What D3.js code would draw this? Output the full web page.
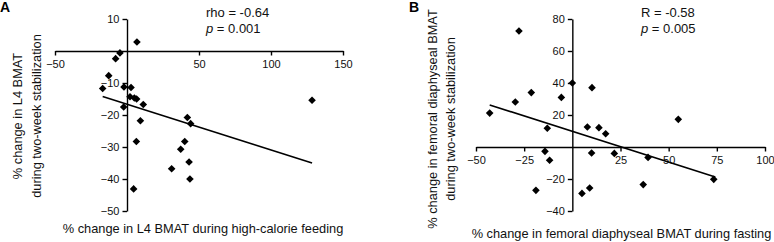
<!DOCTYPE html>
<html>
<head>
<meta charset="utf-8">
<script src="https://cdn.jsdelivr.net/npm/d3@7"></script>
<style>
  body { margin: 0; background: #fff; }
  svg { display: block; font-family: "Liberation Sans", Arial, sans-serif; }
</style>
</head>
<body>
<svg id="chart" width="774" height="242"></svg>
<script>
// ---- panel A data: L4 BMAT ----
const xA = [6.9, -4.9, -7.9, -12.7, -16.9, -2.1, 2.8, 2.1, 5.1, 6.7, 11.3, -2.3, 9.3, 6.5, 4.6, 41.9, 44.2, 40.1, 37.3, 43.1, 31.0, 43.7, 128.5];
const yA = [2.8, -0.6, -2.4, -7.7, -11.7, -11.25, -11.4, -14.3, -14.7, -15.0, -16.7, -17.5, -21.8, -28.3, -43.1, -20.8, -22.7, -28.3, -30.7, -34.7, -36.8, -40.0, -15.4];
const fitA = [[-16.9, -14.2], [128.5, -35.0]];
const xTicksA = [-50, 50, 100, 150];
const yTicksA = [10, -10, -20, -30, -40, -50];

// ---- panel B data: femoral diaphyseal BMAT ----
const xB = [-27.7, 0, 10.2, -21.3, -5.7, -29.6, -42.9, 55.0, -13.0, 7.8, 13.8, 17.3, -14.2, -11.8, 10.0, 21.8, 39.3, -18.9, 5.0, 9.0, 36.8, 73.4];
const yB = [72.5, 40, 37.1, 34.0, 31.0, 28.1, 21.2, 17.3, 11.7, 12.5, 12.1, 8.3, -2.7, -8.3, -3.75, -4.0, -6.5, -27.1, -29.0, -25.6, -23.5, -20.2];
const fitB = [[-42.9, 26.3], [74.2, -18.8]];
const xTicksB = [-50, -25, 25, 50, 75, 100];
const yTicksB = [80, 60, 40, 20, -20, -40];

const svg = d3.select("#chart");

function drawPanel(p) {
    const x = d3.scaleLinear().domain(p.xDomain).range(p.xRange);
    const y = d3.scaleLinear().domain(p.yDomain).range(p.yRange);
    const g = svg.append("g");

    // x axis through y=0
    const xAxis = d3.axisBottom(x).tickValues(p.xTicks).tickSize(4.5).tickPadding(5).tickSizeOuter(0);
    const gx = g.append("g").attr("transform", `translate(0,${y(0)})`).call(xAxis);
    // y axis through x=0
    const yAxis = d3.axisLeft(y).tickValues(p.yTicks).tickSize(4.5).tickPadding(3).tickSizeOuter(0);
    const gy = g.append("g").attr("transform", `translate(${x(0)},0)`).call(yAxis);

    [gx, gy].forEach(a => {
        a.select(".domain").attr("stroke", "#000").attr("stroke-width", 1.4);
        a.selectAll(".tick line").attr("stroke", "#000").attr("stroke-width", 1.4);
        a.selectAll(".tick text").attr("fill", "#111").style("font-size", "11px")
            .style("font-family", "'Liberation Sans', Arial, sans-serif");
    });

    // regression line
    g.append("line")
        .attr("x1", x(p.fit[0][0])).attr("y1", y(p.fit[0][1]))
        .attr("x2", x(p.fit[1][0])).attr("y2", y(p.fit[1][1]))
        .attr("stroke", "#000").attr("stroke-width", 1.6);

    // diamonds
    const pts = p.xs.map((v, i) => ({x: v, y: p.ys[i]}));
    g.selectAll("path.pt")
        .data(pts)
        .enter()
        .append("path")
        .attr("class", "pt")
        .attr("d", d3.symbol().type(d3.symbolSquare).size(29))
        .attr("transform", d => `translate(${x(d.x)},${y(d.y)}) rotate(45)`)
        .attr("fill", "#000");

    // axis titles
    g.append("text")
        .attr("x", (p.xRange[0] + p.xRange[1]) / 2 + p.xLabelShift)
        .attr("y", p.xLabelY)
        .attr("text-anchor", "middle")
        .style("font-size", "12.8px")
        .attr("fill", "#111")
        .text(p.xLabel);

    p.yLabel.forEach((line, i) => {
        g.append("text")
            .attr("transform", `translate(${p.yLabelX[i]},${p.yLabelMid}) rotate(-90)`)
            .attr("text-anchor", "middle")
            .attr("dy", "0.35em")
            .style("font-size", "12.8px")
            .attr("fill", "#111")
            .text(line);
    });

    // stats
    const st = g.append("g").style("font-size", "13px").attr("fill", "#111");
    st.append("text").attr("x", p.statX).attr("y", 17).text(p.stat);
    const t2 = st.append("text").attr("x", p.statX).attr("y", 33);
    t2.append("tspan").style("font-style", "italic").text("p");
    t2.append("tspan").text(" = " + p.pval);

    // panel letter
    g.append("text")
        .attr("x", p.letterX).attr("y", 12)
        .style("font-size", "14px").style("font-weight", "bold")
        .attr("fill", "#000")
        .text(p.letter);
}

drawPanel({
    xs: xA, ys: yA, fit: fitA,
    xDomain: [-50, 150], xRange: [55, 343],
    yDomain: [-50, 10], yRange: [211, 19],
    xTicks: xTicksA, yTicks: yTicksA,
    xLabel: "% change in L4 BMAT during high-calorie feeding",
    xLabelY: 233, xLabelShift: 4,
    yLabel: ["% change in L4 BMAT", "during two-week stabilization"],
    yLabelX: [18, 37], yLabelMid: 116,
    stat: "rho = -0.64", pval: "0.001", statX: 206,
    letter: "A", letterX: 0
});

drawPanel({
    xs: xB, ys: yB, fit: fitB,
    xDomain: [-50, 100], xRange: [476, 765],
    yDomain: [-40, 80], yRange: [211, 19],
    xTicks: xTicksB, yTicks: yTicksB,
    xLabel: "% change in femoral diaphyseal BMAT during fasting",
    xLabelY: 238, xLabelShift: 1,
    yLabel: ["% change in femoral diaphyseal BMAT", "during two-week stabilization"],
    yLabelX: [433, 451], yLabelMid: 119,
    stat: "R = -0.58", pval: "0.005", statX: 641,
    letter: "B", letterX: 409
});
</script>
</body>
</html>
